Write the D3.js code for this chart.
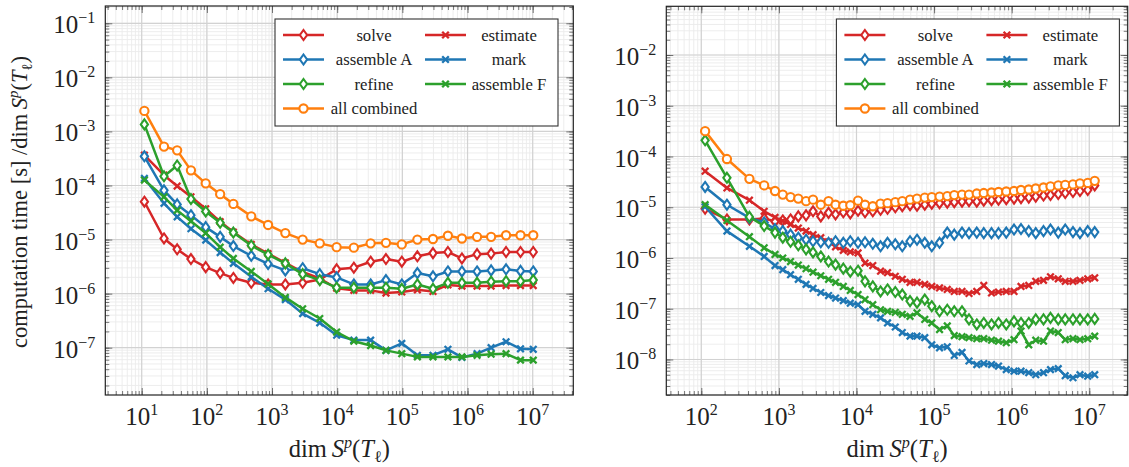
<!DOCTYPE html>
<html><head><meta charset="utf-8">
<script src="https://cdn.jsdelivr.net/npm/d3@7"></script>
<style>html,body{margin:0;padding:0;background:#fff;} svg, svg text{font-family:'Liberation Serif','Times New Roman','DejaVu Serif',serif;}</style>
</head><body><svg id="c" width="1129" height="467" font-family="Liberation Serif, Times New Roman, DejaVu Serif, serif" style="display:block"></svg>
<script>
// ---------------- DATA (y values stored as log10 of seconds / dim) ----------------
const leftDims = [11, 22, 35, 57, 96, 160, 255, 480, 870, 1600, 2950, 5400, 9800, 18000, 32600, 56000, 98000, 170000, 295000, 500000, 820000, 1400000, 2300000, 3900000, 6500000, 10200000];
const solveL     = [-4.30,-4.98,-5.18,-5.36,-5.51,-5.62,-5.71,-5.80,-5.83,-5.83,-5.80,-5.74,-5.55,-5.52,-5.41,-5.36,-5.41,-5.31,-5.25,-5.23,-5.35,-5.27,-5.26,-5.23,-5.23,-5.23];
const estimateL  = [-3.44,-3.81,-4.01,-4.21,-4.43,-4.67,-4.86,-5.09,-5.26,-5.43,-5.60,-5.72,-5.90,-5.94,-5.94,-5.99,-5.97,-5.93,-5.96,-5.84,-5.86,-5.86,-5.86,-5.85,-5.85,-5.85];
const assembleAL = [-3.46,-4.09,-4.35,-4.55,-4.77,-4.95,-5.12,-5.30,-5.45,-5.57,-5.53,-5.64,-5.70,-5.83,-5.83,-5.75,-5.83,-5.62,-5.68,-5.59,-5.59,-5.59,-5.57,-5.55,-5.58,-5.59];
const markL      = [-3.87,-4.33,-4.58,-4.80,-5.01,-5.24,-5.44,-5.69,-5.91,-6.11,-6.37,-6.54,-6.77,-6.86,-6.86,-7.05,-6.92,-7.14,-7.14,-7.03,-7.18,-7.11,-7.00,-6.89,-7.02,-7.03];
const refineL    = [-2.87,-3.83,-3.63,-4.25,-4.48,-4.69,-4.87,-5.11,-5.28,-5.44,-5.64,-5.75,-5.89,-5.89,-5.89,-5.89,-5.91,-5.83,-5.91,-5.80,-5.80,-5.80,-5.78,-5.77,-5.77,-5.75];
const assembleFL = [-3.90,-4.21,-4.46,-4.66,-4.88,-5.14,-5.35,-5.59,-5.82,-6.07,-6.28,-6.46,-6.71,-6.88,-6.96,-7.05,-7.11,-7.17,-7.17,-7.17,-7.17,-7.14,-7.12,-7.11,-7.23,-7.23];
const allL       = [-2.62,-3.28,-3.35,-3.72,-3.96,-4.16,-4.34,-4.57,-4.73,-4.88,-5.00,-5.07,-5.14,-5.15,-5.07,-5.06,-5.09,-5.00,-4.99,-4.93,-4.98,-4.95,-4.95,-4.92,-4.92,-4.92];

const rightDims = [112, 214, 417, 646, 891, 1122, 1413, 1778, 2239, 2754, 3467, 4365, 5370, 6761, 8318, 10471, 12882, 16218, 20417, 25119, 31623, 38905, 48978, 60256, 75858, 93325, 117490, 147911, 181970, 229087, 281838, 354813, 436516, 549541, 676083, 851138, 1071519, 1318257, 1659587, 2041738, 2570396, 3162278, 3981072, 4897788, 6165950, 7585776, 9549926, 11748976];
const solveR     = [-5.03,-5.24,-5.24,-5.22,-5.28,-5.26,-5.24,-5.18,-5.16,-5.08,-5.18,-5.11,-5.14,-5.10,-5.12,-5.07,-5.10,-5.08,-5.05,-5.03,-5.00,-4.98,-4.96,-4.97,-4.95,-4.93,-4.92,-4.91,-4.90,-4.89,-4.88,-4.89,-4.87,-4.86,-4.85,-4.84,-4.83,-4.82,-4.81,-4.79,-4.77,-4.76,-4.74,-4.72,-4.70,-4.68,-4.66,-4.57];
const estimateR  = [-4.29,-4.62,-4.86,-5.08,-5.20,-5.27,-5.34,-5.41,-5.47,-5.54,-5.60,-5.68,-5.78,-5.85,-5.88,-5.90,-6.10,-6.15,-6.26,-6.29,-6.36,-6.42,-6.48,-6.48,-6.52,-6.56,-6.59,-6.62,-6.66,-6.66,-6.70,-6.66,-6.54,-6.69,-6.67,-6.66,-6.66,-6.56,-6.54,-6.46,-6.44,-6.37,-6.41,-6.46,-6.46,-6.44,-6.41,-6.39];
const assembleAR = [-4.60,-4.95,-5.21,-5.30,-5.43,-5.47,-5.54,-5.60,-5.64,-5.67,-5.69,-5.70,-5.67,-5.70,-5.67,-5.70,-5.69,-5.72,-5.77,-5.70,-5.73,-5.77,-5.67,-5.64,-5.70,-5.77,-5.70,-5.50,-5.54,-5.50,-5.51,-5.50,-5.51,-5.51,-5.51,-5.50,-5.44,-5.43,-5.47,-5.51,-5.47,-5.44,-5.50,-5.44,-5.49,-5.51,-5.47,-5.49];
const markR      = [-4.99,-5.47,-5.77,-5.97,-6.15,-6.23,-6.33,-6.42,-6.52,-6.60,-6.68,-6.74,-6.79,-6.84,-6.89,-6.92,-7.05,-7.11,-7.18,-7.28,-7.36,-7.47,-7.54,-7.54,-7.57,-7.71,-7.77,-7.75,-7.92,-7.86,-8.03,-8.10,-8.08,-8.10,-8.13,-8.20,-8.23,-8.23,-8.26,-8.30,-8.26,-8.20,-8.18,-8.32,-8.36,-8.30,-8.33,-8.30];
const refineR    = [-3.68,-4.42,-5.19,-5.37,-5.50,-5.60,-5.68,-5.75,-5.83,-5.89,-5.97,-6.07,-6.13,-6.21,-6.27,-6.25,-6.46,-6.56,-6.66,-6.62,-6.67,-6.72,-6.85,-6.88,-6.82,-6.95,-7.05,-7.02,-7.05,-7.05,-7.21,-7.31,-7.28,-7.31,-7.28,-7.31,-7.25,-7.28,-7.28,-7.21,-7.21,-7.18,-7.21,-7.21,-7.21,-7.21,-7.21,-7.20];
const assembleFR = [-4.95,-5.26,-5.58,-5.80,-5.93,-6.00,-6.07,-6.14,-6.21,-6.28,-6.35,-6.42,-6.48,-6.56,-6.64,-6.72,-6.82,-6.92,-7.02,-7.05,-7.07,-7.11,-7.15,-7.08,-7.21,-7.28,-7.41,-7.34,-7.53,-7.55,-7.57,-7.59,-7.59,-7.62,-7.64,-7.67,-7.61,-7.44,-7.71,-7.62,-7.64,-7.44,-7.47,-7.61,-7.59,-7.61,-7.59,-7.54];
const allR       = [-3.50,-4.05,-4.44,-4.57,-4.68,-4.75,-4.80,-4.83,-4.88,-4.85,-4.95,-4.88,-4.95,-4.97,-4.96,-4.87,-4.95,-4.98,-4.93,-4.92,-4.90,-4.88,-4.85,-4.83,-4.81,-4.80,-4.79,-4.78,-4.76,-4.75,-4.75,-4.73,-4.72,-4.71,-4.70,-4.69,-4.68,-4.66,-4.65,-4.63,-4.61,-4.59,-4.57,-4.56,-4.55,-4.53,-4.52,-4.48];

const seriesNames = ["solve", "estimate", "assemble A", "mark", "refine", "assemble F", "all combined"];
const seriesColors = ["#d62728", "#d62728", "#1f77b4", "#1f77b4", "#2ca02c", "#2ca02c", "#ff7f0e"];
const seriesMarks = ["diamond", "cross", "diamond", "cross", "diamond", "cross", "circle"];
const leftValues = [solveL, estimateL, assembleAL, markL, refineL, assembleFL, allL];
const rightValues = [solveR, estimateR, assembleAR, markR, refineR, assembleFR, allR];
const leftXTicks = [1e1, 1e2, 1e3, 1e4, 1e5, 1e6, 1e7];
const leftYTicks = [1e-7, 1e-6, 1e-5, 1e-4, 1e-3, 1e-2, 1e-1];
const rightXTicks = [1e2, 1e3, 1e4, 1e5, 1e6, 1e7];
const rightYTicks = [1e-8, 1e-7, 1e-6, 1e-5, 1e-4, 1e-3, 1e-2];

// ---------------- DRAWING ----------------
const SERIF = "Liberation Serif, Times New Roman, DejaVu Serif, serif";
const svg = d3.select("#c");
const FONT = 25;

function minorTicks(domain) {
  const out = [];
  const a = Math.floor(Math.log10(domain[0])), b = Math.ceil(Math.log10(domain[1]));
  for (let d = a; d <= b; d++) for (let k = 1; k <= 9; k++) {
    const v = k * Math.pow(10, d);
    if (v >= domain[0] && v <= domain[1]) out.push(v);
  }
  return out;
}

function markPath(type) {
  if (type === "diamond") return "M0,-5L3.6,0L0,5L-3.6,0Z";
  if (type === "cross") return "M-3.3,-3.3L3.3,3.3M-3.3,3.3L3.3,-3.3";
  return d3.symbol().type(d3.symbolCircle).size(Math.PI * 17)();
}
const markStroke = t => t === "cross" ? 2.3 : 2.1;

function powLabel(sel, v) {
  const e = Math.round(Math.log10(v));
  sel.text(null);
  sel.append("tspan").text("10");
  sel.append("tspan").attr("dy", -10).attr("font-size", 16).text(String(e).replace("-", "\u2212"));
}

function panel(cfg) {
  const g = svg.append("g");
  const x = d3.scaleLog().domain(cfg.xDomain).range([cfg.x0, cfg.x1]);
  const y = d3.scaleLog().domain(cfg.yDomain).range([cfg.y1, cfg.y0]);
  const W = cfg.x1 - cfg.x0, H = cfg.y1 - cfg.y0;
  const xMin = minorTicks(cfg.xDomain), yMin = minorTicks(cfg.yDomain);

  // grids
  const grid = g.append("g");
  grid.selectAll(".gxm").data(xMin).join("line").attr("x1", d => x(d)).attr("x2", d => x(d))
    .attr("y1", cfg.y0).attr("y2", cfg.y1).attr("stroke", "#ebebeb").attr("stroke-width", 0.9);
  grid.selectAll(".gym").data(yMin).join("line").attr("y1", d => y(d)).attr("y2", d => y(d))
    .attr("x1", cfg.x0).attr("x2", cfg.x1).attr("stroke", "#ebebeb").attr("stroke-width", 0.9);
  grid.selectAll(".gx").data(cfg.xTicks).join("line").attr("x1", d => x(d)).attr("x2", d => x(d))
    .attr("y1", cfg.y0).attr("y2", cfg.y1).attr("stroke", "#d2d2d2").attr("stroke-width", 1.2);
  grid.selectAll(".gy").data(cfg.yTicks).join("line").attr("y1", d => y(d)).attr("y2", d => y(d))
    .attr("x1", cfg.x0).attr("x2", cfg.x1).attr("stroke", "#d2d2d2").attr("stroke-width", 1.2);

  // axes ticks (inward on all four sides)
  const axes = [
    [d3.axisBottom(x), cfg.xTicks, 7, `translate(0,${cfg.y1})`],
    [d3.axisBottom(x), xMin, 4, `translate(0,${cfg.y1})`],
    [d3.axisTop(x), cfg.xTicks, 7, `translate(0,${cfg.y0})`],
    [d3.axisTop(x), xMin, 4, `translate(0,${cfg.y0})`],
    [d3.axisLeft(y), cfg.yTicks, 7, `translate(${cfg.x0},0)`],
    [d3.axisLeft(y), yMin, 4, `translate(${cfg.x0},0)`],
    [d3.axisRight(y), cfg.yTicks, 7, `translate(${cfg.x1},0)`],
    [d3.axisRight(y), yMin, 4, `translate(${cfg.x1},0)`]
  ];
  axes.forEach(([ax, vals, len, tr]) => {
    const a = g.append("g").attr("transform", tr)
      .call(ax.tickValues(vals).tickSizeInner(-len).tickSizeOuter(0).tickFormat(""));
    a.select(".domain").remove();
    a.selectAll("line").attr("stroke", "#555").attr("stroke-width", 0.8);
  });

  // tick labels
  g.append("g").selectAll("text").data(cfg.xTicks).join("text")
    .attr("x", d => x(d)).attr("y", cfg.y1 + 30).attr("text-anchor", "middle")
    .attr("font-family", SERIF).attr("font-size", FONT).attr("fill", "#222")
    .each(function (d) { powLabel(d3.select(this), d); });
  g.append("g").selectAll("text").data(cfg.yTicks).join("text")
    .attr("x", cfg.x0 - 10).attr("y", d => y(d) + 10).attr("text-anchor", "end")
    .attr("font-family", SERIF).attr("font-size", FONT).attr("fill", "#222")
    .each(function (d) { powLabel(d3.select(this), d); });

  // data
  const clipId = "clip" + cfg.id;
  svg.append("clipPath").attr("id", clipId).append("rect")
    .attr("x", cfg.x0).attr("y", cfg.y0).attr("width", W).attr("height", H);
  const dg = g.append("g").attr("clip-path", `url(#${clipId})`);
  const line = d3.line().x(d => x(d[0])).y(d => y(d[1]));
  cfg.values.forEach((vals, i) => {
    const pts = cfg.dims.map((dim, j) => [dim, Math.pow(10, vals[j])]);
    const col = seriesColors[i];
    dg.append("path").datum(pts).attr("d", line).attr("fill", "none")
      .attr("stroke", col).attr("stroke-width", 2.5).attr("stroke-linejoin", "round");
    dg.append("g").selectAll("path").data(pts).join("path")
      .attr("transform", d => `translate(${x(d[0])},${y(d[1])})`)
      .attr("d", markPath(seriesMarks[i]))
      .attr("fill", seriesMarks[i] === "cross" ? "none" : "#fff")
      .attr("stroke", col).attr("stroke-width", markStroke(seriesMarks[i]));
  });

  // frame
  g.append("rect").attr("x", cfg.x0).attr("y", cfg.y0).attr("width", W).attr("height", H)
    .attr("fill", "none").attr("stroke", "#222").attr("stroke-width", 1.2);

  // legend
  const L = g.append("g").attr("transform", `translate(${cfg.legX},19)`);
  L.append("rect").attr("width", 283).attr("height", 107).attr("fill", "#fff")
    .attr("stroke", "#333").attr("stroke-width", 1.1);
  const rowsY = [16, 40.5, 65, 89.5];
  seriesNames.forEach((name, i) => {
    const col = i === 6 ? 0 : i % 2, row = i === 6 ? 3 : Math.floor(i / 2);
    const lx = col === 0 ? 8 : 150, tx = col === 0 ? 99 : 234;
    const ry = rowsY[row];
    L.append("line").attr("x1", lx).attr("x2", lx + 41).attr("y1", ry).attr("y2", ry)
      .attr("stroke", seriesColors[i]).attr("stroke-width", 2.5);
    L.append("path").attr("transform", `translate(${lx + 20.5},${ry})`).attr("d", markPath(seriesMarks[i]))
      .attr("fill", seriesMarks[i] === "cross" ? "none" : "#fff")
      .attr("stroke", seriesColors[i]).attr("stroke-width", markStroke(seriesMarks[i]));
    L.append("text").attr("x", tx).attr("y", ry + 5.5).attr("text-anchor", "middle")
      .attr("font-family", SERIF).attr("font-size", 16.7).attr("fill", "#222").text(name);
  });

  // x title
  const xt = g.append("text").attr("x", (cfg.x0 + cfg.x1) / 2).attr("y", 457)
    .attr("text-anchor", "middle").attr("font-family", SERIF).attr("font-size", 24.5).attr("fill", "#222");
  dimLabel(xt);
  return g;
}

function dimLabel(t) {
  t.append("tspan").text("dim\u2009");
  t.append("tspan").attr("font-style", "italic").text("S");
  t.append("tspan").attr("font-style", "italic").attr("font-size", "0.66em").attr("dy", -9).text("p");
  t.append("tspan").attr("dy", 9).text("(");
  t.append("tspan").attr("font-style", "italic").text("T");
  t.append("tspan").attr("font-size", "0.66em").attr("dy", 5).text("\u2113");
  t.append("tspan").attr("dy", -5).text(")");
}

panel({ id: "L", dims: leftDims, values: leftValues,
  x0: 105.3, x1: 573.3, y0: 6, y1: 395,
  xDomain: [Math.pow(10, 0.4415), Math.pow(10, 7.623)], yDomain: [Math.pow(10, -7.875), Math.pow(10, -0.680)],
  xTicks: leftXTicks, yTicks: leftYTicks, legX: 275 });

panel({ id: "R", dims: rightDims, values: rightValues,
  x0: 666.3, x1: 1127.7, y0: 6.3, y1: 395,
  xDomain: [Math.pow(10, 1.549), Math.pow(10, 7.495)], yDomain: [Math.pow(10, -8.70), Math.pow(10, -1.040)],
  xTicks: rightXTicks, yTicks: rightYTicks, legX: 836.4 });

// y title (left)
const yt = svg.append("text").attr("transform", "translate(27,202) rotate(-90)")
  .attr("text-anchor", "middle").attr("font-family", SERIF).attr("font-size", 22.5).attr("fill", "#222");
yt.append("tspan").text("computation time [s] /");
dimLabel(yt);
</script></body></html>
